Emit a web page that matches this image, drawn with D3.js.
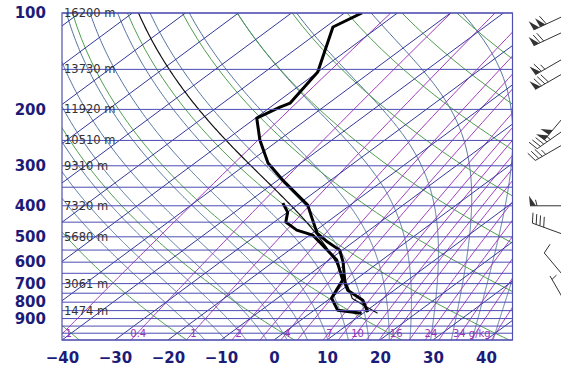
<!DOCTYPE html>
<html>
<head>
<meta charset="utf-8">
<script src="https://cdn.jsdelivr.net/npm/d3@7"></script>
<style>
  body { margin: 0; background: #fff; }
  svg { display: block; }
</style>
</head>
<body>
<div id="chart"></div>
<script>

// sounding: pressure (hPa) and temperature (C)
const tempP = [100, 110.6, 152.9, 191.1, 196.7, 212.8, 249.3, 294.2, 332.5, 398, 433.9, 486.8, 519.4, 550.2, 599.8, 697.5, 733.6, 788.3, 859.4];
const tempT = [-66.7, -68.6, -60.0, -57.3, -58.2, -59.8, -53.6, -46.2, -39.1, -28.0, -24.2, -19.1, -14.8, -10.5, -6.8, -1.1, 1.2, 6.6, 10.6];
const dewP = [392.3, 418.6, 449.8, 476.4, 493.9, 519.4, 591.2, 682.7, 777.1, 847.2, 865.7];
const dewT = [-33.2, -30.0, -27.8, -23.7, -19.4, -16.3, -8.5, -2.3, 0.2, 4.4, 9.7];

// wind barbs: pressure, direction (deg), speed (kt)
const windP = [100, 112, 135, 150, 200, 225, 250, 400, 500, 700, 850];
const windDir = [245, 245, 240, 240, 220, 235, 240, 270, 290, 320, 330];
const windSpd = [110, 70, 65, 80, 100, 45, 35, 55, 40, 10, 5];

// axes and labels
const pressureTicks = [100, 200, 300, 400, 500, 600, 700, 800, 900];
const tempTicks = [-40, -30, -20, -10, 0, 10, 20, 30, 40];
const heightP = [100, 150, 200, 250, 300, 400, 500, 700, 850];
const heightLabels = ["16200 m", "13730 m", "11920 m", "10510 m", "9310 m", "7320 m", "5680 m", "3061 m", "1474 m"];
const mixLabelVals = [0.1, 0.4, 1, 2, 4, 7, 10, 16, 24, 34];
const mixLabels = ["0.1", "0.4", "1", "2", "4", "7", "10", "16", "24", "34 g/kg"];

// background lines
const isobars = d3.range(100, 1051, 50);
const isotherms = d3.range(-160, 50, 10);
const dryLines = d3.range(-40, 241, 20);      // T at 1000 hPa
const moistLines = d3.range(-16, 45, 4);      // T at 1000 hPa
const mixRatios = [0.1, 0.4, 1, 2, 3, 4, 5, 7, 8.5, 10, 12, 14, 16, 20, 24, 28, 34, 40, 50];

const W = 561, H = 372;
const plotL = 62, plotR = 512.5, plotT = 13, plotB = 340;
const skew = 1.35;

const y = d3.scaleLog().domain([100, 1050]).range([plotT, plotB]);
const x = d3.scaleLinear().domain([-40, 45]).range([plotL, plotR]);
const sx = (T, p) => x(T) + skew * (y(1050) - y(p));

const svg = d3.select("#chart").append("svg")
    .attr("width", W)
    .attr("height", H)
    .style("background", "#fff");

svg.append("clipPath").attr("id", "clip")
  .append("rect")
    .attr("x", plotL).attr("y", plotT)
    .attr("width", plotR - plotL).attr("height", plotB - plotT);

const g = svg.append("g").attr("clip-path", "url(#clip)");

const line = d3.line()
    .x(d => sx(d[1], d[0]))
    .y(d => y(d[0]));

// thermodynamics helpers
function satVap(tc) { return 6.112 * Math.exp(17.67 * tc / (tc + 243.5)); }
function dewFromE(e) { const l = Math.log(e / 6.112); return 243.5 * l / (17.67 - l); }
function mixFromTd(td, p) { const e = satVap(td); return 622 * e / (p - e); }

function moistLapse(p, tK) {
  const es = satVap(tK - 273.15);
  const rs = 0.622 * es / (p - es);
  const num = (287.04 * tK + 2.501e6 * rs) / p;
  const den = 1005.7 + 2.501e6 * 2.501e6 * rs * 0.622 / (287.04 * tK * tK);
  return num / den;
}

function moistPath(p0, t0, pEnd) {
  const pts = [[p0, t0]];
  let tK = t0 + 273.15, p = p0;
  const dp = pEnd < p0 ? -2 : 2;
  while ((dp < 0 && p > pEnd) || (dp > 0 && p < pEnd)) {
    const k1 = moistLapse(p, tK);
    const k2 = moistLapse(p + dp / 2, tK + k1 * dp / 2);
    tK += k2 * dp;
    p += dp;
    pts.push([p, tK - 273.15]);
  }
  return pts;
}

const pSteps = d3.range(1050, 99, -10);

// moist adiabats
moistLines.forEach(t0 => {
  const up = moistPath(1000, t0, 100);
  const down = moistPath(1000, t0, 1050).reverse();
  g.append("path")
      .attr("d", line(down.concat(up.slice(1))))
      .attr("fill", "none")
      .attr("stroke", "#50709c")
      .attr("stroke-width", 1);
});

// dry adiabats
dryLines.forEach(t0 => {
  const th = t0 + 273.15;
  g.append("path")
      .attr("d", line(pSteps.map(p => [p, th * Math.pow(p / 1000, 0.2857) - 273.15])))
      .attr("fill", "none")
      .attr("stroke", "#4e9e4e")
      .attr("stroke-width", 1);
});

// mixing ratio lines
mixRatios.forEach(w => {
  g.append("path")
      .attr("d", line(pSteps.map(p => [p, dewFromE(w * p / (622 + w))])))
      .attr("fill", "none")
      .attr("stroke", "#a23cc0")
      .attr("stroke-width", 1);
});

// isotherms
isotherms.forEach(t => {
  g.append("line")
      .attr("x1", sx(t, 1050)).attr("y1", y(1050))
      .attr("x2", sx(t, 100)).attr("y2", y(100))
      .attr("stroke", "#34389a")
      .attr("stroke-width", 1);
});

// isobars
svg.selectAll(".isobar")
  .data(isobars)
  .enter().append("line")
    .attr("class", "isobar")
    .attr("x1", plotL).attr("x2", plotR)
    .attr("y1", d => y(d)).attr("y2", d => y(d))
    .attr("stroke", "#4c4cb4")
    .attr("stroke-width", 1);

// frame
svg.append("rect")
    .attr("x", plotL).attr("y", plotT)
    .attr("width", plotR - plotL).attr("height", plotB - plotT)
    .attr("fill", "none")
    .attr("stroke", "#5050b0")
    .attr("stroke-width", 1.2);

// mixing ratio labels
g.selectAll(".mixlab")
  .data(mixLabelVals)
  .enter().append("text")
    .attr("class", "mixlab")
    .attr("x", (d, i) => sx(dewFromE(d * 1000 / (622 + d)), 1000) + 1 + (i == mixLabels.length - 1 ? 10 : 0))
    .attr("y", 337)
    .attr("text-anchor", "middle")
    .attr("font-family", "DejaVu Sans, sans-serif")
    .attr("font-size", 10)
    .attr("fill", "#a030b8")
    .text((d, i) => mixLabels[i]);

// height labels
svg.selectAll(".hlab")
  .data(heightP)
  .enter().append("text")
    .attr("class", "hlab")
    .attr("x", plotL + 2)
    .attr("y", d => y(d) + 4)
    .attr("font-family", "DejaVu Sans, sans-serif")
    .attr("font-size", 11.5)
    .attr("fill", "#333")
    .text((d, i) => heightLabels[i]);

// parcel curve: mixed layer (lowest 100 hPa) lifted from the surface
const sfcP = d3.max(tempP.concat(dewP));
const mlTheta = d3.mean(tempP.map((p, i) => [p, tempT[i]]).filter(d => d[0] >= sfcP - 100),
    d => (d[1] + 273.15) * Math.pow(1000 / d[0], 0.2857));
const mlMix = d3.mean(dewP.map((p, i) => [p, dewT[i]]).filter(d => d[0] >= sfcP - 100),
    d => mixFromTd(d[1], d[0]));
let pl = sfcP, tl = mlTheta * Math.pow(sfcP / 1000, 0.2857) - 273.15;
const parcel = [[pl, tl]];
for (let k = 0; k < 600; k++) {
  const pn = pl - 1;
  const tNext = mlTheta * Math.pow(pn / 1000, 0.2857) - 273.15;
  const tdNext = dewFromE(mlMix * pn / (622 + mlMix));
  pl = pn; tl = tNext;
  parcel.push([pl, tl]);
  if (tdNext >= tNext) break;
}
const parcelUp = moistPath(pl, tl, 100);
g.append("path")
    .attr("d", line(parcel.concat(parcelUp.slice(1))))
    .attr("fill", "none")
    .attr("stroke", "#111")
    .attr("stroke-width", 1.2);

// temperature and dew point
g.append("path")
    .attr("d", line(tempP.map((p, i) => [p, tempT[i]])))
    .attr("fill", "none")
    .attr("stroke", "#000")
    .attr("stroke-width", 3)
    .attr("stroke-linejoin", "round");

g.append("path")
    .attr("d", line(dewP.map((p, i) => [p, dewT[i]])))
    .attr("fill", "none")
    .attr("stroke", "#000")
    .attr("stroke-width", 3)
    .attr("stroke-linejoin", "round");

// axes
const yAxis = svg.append("g")
    .attr("transform", `translate(${plotL},0)`)
    .call(d3.axisLeft(y).tickValues(pressureTicks).tickSize(0).tickPadding(16).tickFormat(d3.format("d")));
yAxis.select(".domain").remove();
yAxis.selectAll("text")
    .attr("font-family", "DejaVu Sans, sans-serif")
    .attr("font-size", 15)
    .attr("font-weight", "bold")
    .attr("fill", "#1c1c78");

const xAxis = svg.append("g")
    .attr("transform", `translate(0,${plotB})`)
    .call(d3.axisBottom(x).tickValues(tempTicks).tickSize(0).tickPadding(12).tickFormat(d3.format("d")));
xAxis.select(".domain").remove();
xAxis.selectAll("text")
    .attr("font-family", "DejaVu Sans, sans-serif")
    .attr("font-size", 15)
    .attr("font-weight", "bold")
    .attr("fill", "#1c1c78");

// wind barbs
const stationX = 570;
function barb(p, dir, spd) {
  const rad = dir * Math.PI / 180;
  const ux = Math.sin(rad), uy = -Math.cos(rad);
  const px = -uy, py = ux;
  const x0 = stationX, y0 = y(p);
  const L = 40;
  const bg = svg.append("g");
  bg.append("line")
      .attr("x1", x0).attr("y1", y0)
      .attr("x2", x0 + ux * L).attr("y2", y0 + uy * L)
      .attr("stroke", "#333").attr("stroke-width", 1);
  let s = Math.round(spd / 5) * 5;
  let pos = L;
  while (s >= 50) {
    const ax = x0 + ux * pos, ay = y0 + uy * pos;
    const bx = x0 + ux * (pos - 6), by = y0 + uy * (pos - 6);
    bg.append("path")
        .attr("d", `M${ax},${ay}L${ax + px * 10 + ux * 1},${ay + py * 10 + uy * 1}L${bx},${by}Z`)
        .attr("fill", "#333");
    pos -= 7; s -= 50;
  }
  while (s >= 10) {
    const ax = x0 + ux * pos, ay = y0 + uy * pos;
    bg.append("line")
        .attr("x1", ax).attr("y1", ay)
        .attr("x2", ax + px * 10 + ux * 3).attr("y2", ay + py * 10 + uy * 3)
        .attr("stroke", "#333").attr("stroke-width", 1);
    pos -= 4; s -= 10;
  }
  if (s >= 5) {
    if (pos == L) pos -= 4;
    const ax = x0 + ux * pos, ay = y0 + uy * pos;
    bg.append("line")
        .attr("x1", ax).attr("y1", ay)
        .attr("x2", ax + px * 6 + ux * 1.5).attr("y2", ay + py * 6 + uy * 1.5)
        .attr("stroke", "#333").attr("stroke-width", 1);
  }
}
windP.forEach((p, i) => barb(p, windDir[i], windSpd[i]));

</script>
</body>
</html>
